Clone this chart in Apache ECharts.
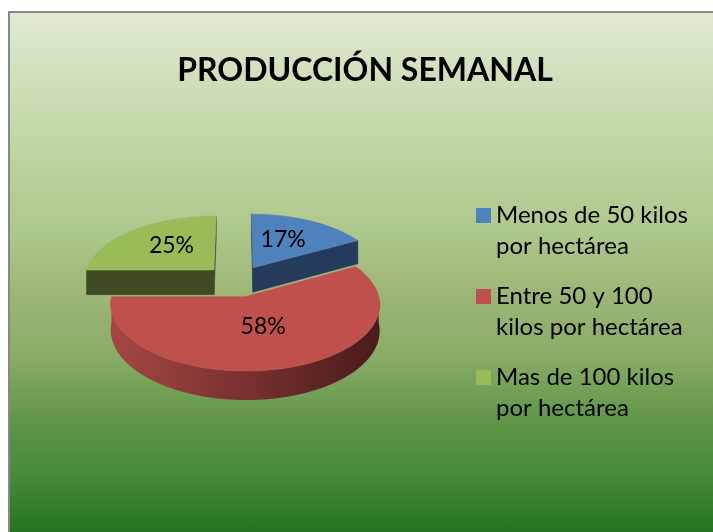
<!DOCTYPE html>
<html>
<head>
<meta charset="utf-8">
<script src="https://cdn.jsdelivr.net/npm/echarts@6/dist/echarts.min.js"></script>
<style>
  html, body { margin: 0; padding: 0; background: #ffffff; width: 713px; height: 532px; overflow: hidden; }
  #panel {
    position: absolute; left: 8px; top: 11px; width: 720px; height: 530px;
    border: 2px solid #888888; box-sizing: border-box;
    background: linear-gradient(to bottom,
      #e0eAd3 0%, #c6d9ab 20%, #b0c98e 40%, #9eb677 53%, #8aac67 65%,
      #5e9548 78%, #478a37 88%, #22701f 100%);
  }
  #chart { position: absolute; left: 0; top: 0; width: 713px; height: 532px; }
</style>
</head>
<body>
<div id="panel"></div>
<div id="chart"></div>
<script>
// ---- data ----
const titleText = 'PRODUCCIÓN SEMANAL';
const categories = ['Menos de 50 kilos por hectárea', 'Entre 50 y 100 kilos por hectárea', 'Mas de 100 kilos por hectárea'];
const legendLabels = ['Menos de 50 kilos\npor hectárea', 'Entre 50 y 100\nkilos por hectárea', 'Mas de 100 kilos\npor hectárea'];
const values = [17, 58, 25];

// ---- styles ----
const topColors = ['#4f81bd', '#c0504d', '#9bbb59'];
const faceColors = ['#253b5c', '#5e2523', '#3f4a22'];
const wallGradients = [
  ['#3f6796', '#1f3350'],
  ['#a54744', '#4a1b1b'],
  ['#7c9647', '#3b4a20']
];

// ---- 3D pie geometry (layout) ----
const geo = { cx: 236.7, cy: 281, R: 130, K: 0.48, P: 1170, E: 32.7, T: 25 };
const total = values.reduce((a, b) => a + b, 0);
const starts = [];
(function () { let acc = 0; values.forEach(v => { starts.push(acc); acc += v; }); })();

function proj(X, Y, Z) {
  const s = geo.P / (geo.P + Y);
  return [geo.cx + X * s, geo.cy - (Y * geo.K + Z) * s];
}

function renderSlice(i, api) {
  const v = api.value(0);
  const a0 = starts[i] / total * Math.PI * 2;
  const a1 = (starts[i] + v) / total * Math.PI * 2;
  const m = (a0 + a1) / 2;
  const ox = geo.E * Math.sin(m), oy = geo.E * Math.cos(m);
  const R = geo.R, T = geo.T;
  const rim = (t, z) => proj(ox + R * Math.sin(t), oy + R * Math.cos(t), z);
  const apex = z => proj(ox, oy, z);
  const children = [];
  const step = Math.PI / 180;

  // radial faces
  const faceVisible = (ang, sign) => {
    const nx = Math.sin(ang + sign * Math.PI / 2), ny = Math.cos(ang + sign * Math.PI / 2);
    const px = ox + R / 2 * Math.sin(ang), py = oy + R / 2 * Math.cos(ang);
    const vx = 0 - px, vy = -geo.P - py;
    return nx * vx + ny * vy > 0;
  };
  [[a0, -1], [a1, 1]].forEach(([ang, sign]) => {
    if (faceVisible(ang, sign)) {
      children.push({
        type: 'polygon', z2: 1,
        shape: { points: [apex(0), rim(ang, 0), rim(ang, -T), apex(-T)] },
        style: { fill: faceColors[i], stroke: faceColors[i], lineWidth: 0.5 }
      });
    }
  });

  // outer wall (front-facing part)
  const w0 = Math.max(a0, Math.PI / 2), w1 = Math.min(a1, Math.PI * 1.5);
  if (w1 > w0) {
    const pts = [];
    for (let t = w0; t < w1; t += step) pts.push(rim(t, 0));
    pts.push(rim(w1, 0));
    const bot = [];
    for (let t = w0; t < w1; t += step) bot.push(rim(t, -T));
    bot.push(rim(w1, -T));
    children.push({
      type: 'polygon', z2: 2,
      shape: { points: pts.concat(bot.reverse()) },
      style: {
        fill: new echarts.graphic.LinearGradient(0, 0, 1, 0, [
          { offset: 0, color: wallGradients[i][0] },
          { offset: 1, color: wallGradients[i][1] }
        ])
      }
    });
  }

  // top face
  const top = [apex(0)];
  for (let t = a0; t < a1; t += step) top.push(rim(t, 0));
  top.push(rim(a1, 0));
  children.push({
    type: 'polygon', z2: 3,
    shape: { points: top },
    style: { fill: topColors[i], stroke: topColors[i], lineWidth: 0.5 }
  });

  // label
  const lp = proj(ox + 0.5 * R * Math.sin(m), oy + 0.5 * R * Math.cos(m), 0);
  children.push({
    type: 'text', z2: 4,
    x: lp[0], y: lp[1] - 4,
    style: {
      text: Math.round(v / total * 100) + '%',
      fill: '#000000',
      font: '23px Lato',
      align: 'center', verticalAlign: 'middle',
      textAlign: 'center', textVerticalAlign: 'middle'
    }
  });
  return { type: 'group', children };
}

const chart = echarts.init(document.getElementById('chart'), null, { renderer: 'canvas' });
const series = categories.map((name, i) => {
  const a0 = starts[i] / total * Math.PI * 2;
  const a1 = (starts[i] + values[i]) / total * Math.PI * 2;
  const far = Math.cos((a0 + a1) / 2) > 0;
  return {
    type: 'custom', name, coordinateSystem: 'none', silent: true,
    z: far ? 2 : 3,
    itemStyle: { color: topColors[i] },
    data: [[values[i]]],
    renderItem: (params, api) => renderSlice(i, api)
  };
});

chart.setOption({
  animation: false,
  title: {
    text: titleText, left: 360, top: 50, textAlign: 'center',
    textStyle: { fontFamily: 'Lato', fontWeight: 'bold', fontSize: 32, color: '#000000' }
  },
  legend: {
    orient: 'vertical', left: 471, top: 195,
    icon: 'path://M0,0 H15 V15 H0 Z M0,46 H0.01 V46 Z',
    itemWidth: 15, itemHeight: 46, itemGap: 19, itemSymbolKeepAspect: false,
    selectedMode: false,
    data: categories,
    formatter: n => legendLabels[categories.indexOf(n)],
    textStyle: { fontFamily: 'Lato', fontSize: 24, color: '#000000', lineHeight: 31 }
  },
  series
});
</script>
</body>
</html>
